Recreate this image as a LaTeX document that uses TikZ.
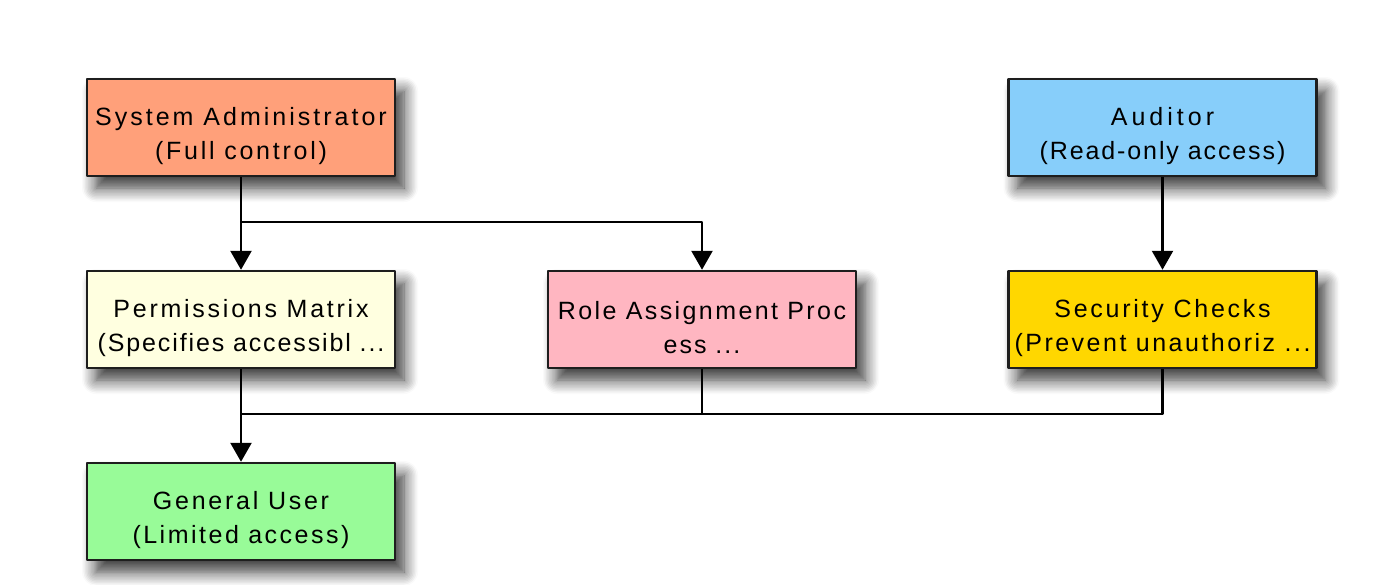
\documentclass[tikz,border=0pt]{standalone}
\usepackage{fontspec}
\setmainfont{Liberation Sans}
\usetikzlibrary{arrows.meta,shadows.blur}
\definecolor{adminfill}{HTML}{FFA07A}
\definecolor{auditfill}{HTML}{87CEFA}
\definecolor{permfill}{HTML}{FFFFE0}
\definecolor{rolefill}{HTML}{FFB6C1}
\definecolor{secfill}{HTML}{FFD700}
\definecolor{userfill}{HTML}{98FB98}
\definecolor{edge}{HTML}{1E1E1E}
% tracked line of text; the first line carries a tall strut
\newcommand{\spaced}[2]{{\addfontfeatures{LetterSpace=#1}#2}}
\newcommand{\topline}[2]{\rule{0pt}{35pt}\spaced{#1}{#2}}
\tikzset{
  rolebox/.style={draw=edge, line width=2.5pt, minimum width=308pt, minimum height=97pt,
    align=center, inner sep=0pt, font=\fontsize{25}{34}\selectfont,
    blur shadow={shadow xshift=9pt, shadow yshift=-12pt, shadow blur radius=14pt, shadow blur steps=10, shadow opacity=80}},
  link/.style={line width=2.5pt, draw=black},
  arrow/.style={link, -{Triangle[length=19pt,width=21pt]}}
}
\begin{document}
\begin{tikzpicture}[x=1pt, y=-1pt, line join=round]
		\useasboundingbox (0,0) rectangle (1393,584);
		% boxes
		\node[rolebox, fill=adminfill] (admin) at (241,127.5) {\topline{12}{System Administrator}\\\spaced{11}{(Full control)}};
		\node[rolebox, fill=auditfill] (audit) at (1162.5,127.5) {\topline{16}{Auditor}\\\spaced{7.6}{(Read-only access)}};
		\node[rolebox, fill=permfill] (perm) at (241,319.5) {\topline{11}{Permissions Matrix}\\\spaced{7.5}{(Specifies accessibl ...}};
		\node[rolebox, fill=rolefill] (role) at (702,319.5) {\topline{9.6}{Role Assignment Proc}\\\spaced{8}{ess ...}};
		\node[rolebox, fill=secfill] (sec) at (1162.5,319.5) {\topline{11}{Security Checks}\\\spaced{10}{(Prevent unauthoriz ...}};
		\node[rolebox, fill=userfill] (user) at (241,511.5) {\topline{11}{General User}\\\spaced{10}{(Limited access)}};
		% junctions
		\coordinate (fork) at (241,222);
		\coordinate (merge) at (241,414);
		% connectors
		\draw[arrow] (admin) -- (perm);
		\draw[arrow] (fork) -| (role.north);
		\draw[arrow] (audit) -- (sec);
		\draw[link] (role.south) |- (merge);
		\draw[link] (sec.south) |- (merge);
		\draw[arrow] (perm) -- (user);
\end{tikzpicture}
\end{document}
